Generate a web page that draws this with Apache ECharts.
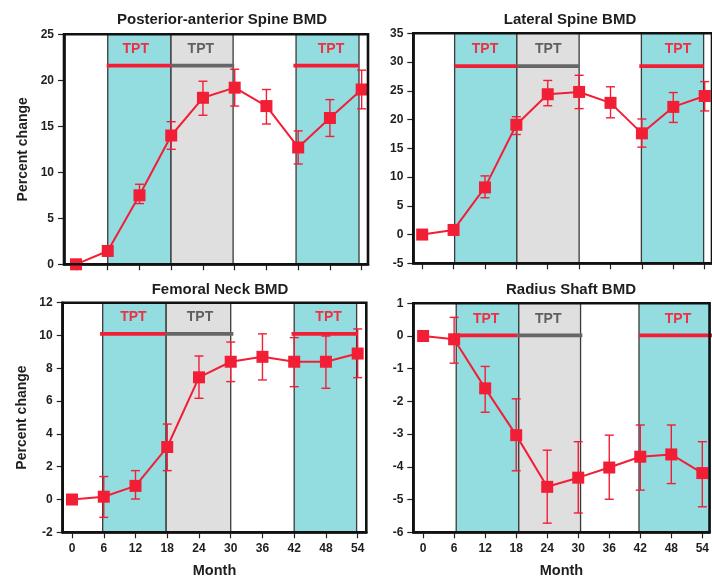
<!DOCTYPE html>
<html>
<head>
<meta charset="utf-8">
<script src="https://cdn.jsdelivr.net/npm/echarts@6/dist/echarts.min.js"></script>
<style>
html, body { margin: 0; padding: 0; background: #fff; }
#chart { width: 712px; height: 581px; }
</style>
</head>
<body>
<div id="chart"></div>
<script>
// Study visits (months) and tick marks on every x axis
const months = [0, 6, 12, 18, 24, 30, 36, 42, 48, 54];
const monthTicks = [0, 6, 12, 18, 24, 30, 36, 42, 48, 54];

const panelTitles = ['Posterior-anterior Spine BMD', 'Lateral Spine BMD', 'Femoral Neck BMD', 'Radius Shaft BMD'];

// Mean percent change with upper / lower error limits (null = no bar)
const paSpineMean  = [0, 1.45, 7.5, 14.0, 18.1, 19.2, 17.2, 12.7, 15.9, 19.0];
const paSpineUpper = [null, null, 8.7, 15.5, 19.9, 21.2, 19.0, 14.5, 17.9, 21.1];
const paSpineLower = [null, null, 6.6, 12.5, 16.2, 17.2, 15.25, 10.9, 13.9, 16.9];

const latSpineMean  = [0, 0.8, 8.2, 19.1, 24.4, 24.8, 22.9, 17.6, 22.2, 24.1];
const latSpineUpper = [null, null, 10.2, 20.5, 26.8, 27.7, 25.7, 20.1, 24.7, 26.6];
const latSpineLower = [null, null, 6.4, 17.4, 22.4, 21.9, 20.3, 15.2, 19.5, 21.5];

const femNeckMean  = [0, 0.17, 0.83, 3.2, 7.45, 8.4, 8.7, 8.4, 8.4, 8.9];
const femNeckUpper = [null, 1.4, 1.76, 4.6, 8.75, 9.6, 10.1, 9.87, 9.97, 10.4];
const femNeckLower = [null, -1.09, 0.03, 1.76, 6.17, 7.19, 7.29, 6.88, 6.78, 7.43];

const radShaftMean  = [0, -0.1, -1.6, -3.03, -4.61, -4.33, -4.02, -3.69, -3.62, -4.19];
const radShaftUpper = [null, 0.57, -0.93, -1.92, -3.49, -3.23, -3.03, -2.72, -2.72, -3.23];
const radShaftLower = [null, -0.83, -2.33, -4.12, -5.72, -5.41, -4.99, -4.71, -4.51, -5.22];

// Treatment windows: [start month, end month, 'on' = TPT given, 'off' = TPT paused]
const paSpineWindows  = [[6, 17.96, 'on'], [17.96, 29.7, 'off'], [41.6, 53.5, 'on']];
const latSpineWindows = [[6.2, 18.1, 'on'], [18.1, 30.0, 'off'], [41.9, 53.8, 'on']];
const femNeckWindows  = [[5.8, 17.8, 'on'], [17.8, 30.0, 'off'], [42.0, 53.8, 'on']];
const radShaftWindows = [[6.4, 18.5, 'on'], [18.5, 30.45, 'off'], [41.75, 56, 'on']];

// Horizontal TPT bars: [start month, end month, kind] and their level
const paSpineBars  = [[5.8, 17.96, 'on'], [17.96, 29.9, 'off'], [41.1, 53.5, 'on']];
const latSpineBars = [[6.2, 18.1, 'on'], [18.1, 30.0, 'off'], [41.5, 53.8, 'on']];
const femNeckBars  = [[5.3, 17.7, 'on'], [17.7, 30.5, 'off'], [41.5, 54.0, 'on']];
const radShaftBars = [[6.0, 18.2, 'on'], [18.2, 30.8, 'off'], [41.75, 56, 'on']];
const barLevels = [21.6, 29.3, 10.1, 0.02];

// "TPT" captions: [month, kind] and their level
const paSpineLabels  = [[11.3, 'on'], [23.6, 'off'], [48.2, 'on']];
const latSpineLabels = [[12.0, 'on'], [24.1, 'off'], [48.9, 'on']];
const femNeckLabels  = [[11.6, 'on'], [24.2, 'off'], [48.5, 'on']];
const radShaftLabels = [[12.2, 'on'], [24.2, 'off'], [49.3, 'on']];
const labelLevels = [23.4, 32.2, 11.1, 0.51];

// y-axis ranges [min, max, interval]
const yRanges = [[0, 25, 5], [-5, 35, 5], [-2, 12, 2], [-6, 1, 1]];

const RED = '#F21E36';
const CYAN = '#93DDE0';
const GREY_FILL = '#DFDFDF';
const GREY_BAR = '#666666';
const TEXT = '#1e1e1e';
const FONT = "'Liberation Sans', Arial, Helvetica, sans-serif";

const panels = [
  { mean: paSpineMean, upper: paSpineUpper, lower: paSpineLower, windows: paSpineWindows, bars: paSpineBars, labels: paSpineLabels,
    grid: { left: 64, top: 34.3, width: 304, height: 230 }, xMin: -2.27, xMax: 55.2, yName: 'Percent change', showX: false, titleX: 217, titleY: 7 },
  { mean: latSpineMean, upper: latSpineUpper, lower: latSpineLower, windows: latSpineWindows, bars: latSpineBars, labels: latSpineLabels,
    grid: { left: 413.3, top: 33.3, width: 302.4, height: 230 }, xMin: -1.7, xMax: 55.4, yName: '', showX: false, titleX: 565, titleY: 7 },
  { mean: femNeckMean, upper: femNeckUpper, lower: femNeckLower, windows: femNeckWindows, bars: femNeckBars, labels: femNeckLabels,
    grid: { left: 62.7, top: 302.7, width: 303.6, height: 229.6 }, xMin: -1.76, xMax: 55.63, yName: 'Percent change', showX: true, titleX: 215, titleY: 277 },
  { mean: radShaftMean, upper: radShaftUpper, lower: radShaftLower, windows: radShaftWindows, bars: radShaftBars, labels: radShaftLabels,
    grid: { left: 413.3, top: 303.3, width: 304.3, height: 229 }, xMin: -1.9, xMax: 55.4, yName: '', showX: true, titleX: 566, titleY: 277 }
];

const chart = echarts.init(document.getElementById('chart'), null, { renderer: 'canvas' });

const grids = [], xAxes = [], yAxes = [], series = [], titles = [];

function errorBarItem(params, api) {
  const x = api.value(0);
  const top = api.coord([x, api.value(1)]);
  const bot = api.coord([x, api.value(2)]);
  const cap = 4.5;
  const style = { stroke: RED, lineWidth: 1.4 };
  return {
    type: 'group',
    children: [
      { type: 'line', shape: { x1: top[0], y1: top[1], x2: bot[0], y2: bot[1] }, style },
      { type: 'line', shape: { x1: top[0] - cap, y1: top[1], x2: top[0] + cap, y2: top[1] }, style },
      { type: 'line', shape: { x1: bot[0] - cap, y1: bot[1], x2: bot[0] + cap, y2: bot[1] }, style }
    ]
  };
}

function phaseBarItem(params, api) {
  const a = api.coord([api.value(0), api.value(2)]);
  const b = api.coord([api.value(1), api.value(2)]);
  const on = api.value(3) === 1;
  return {
    type: 'line',
    shape: { x1: a[0], y1: a[1], x2: b[0], y2: b[1] },
    style: { stroke: on ? RED : GREY_BAR, lineWidth: 3.6 }
  };
}

function phaseLabelItem(params, api) {
  const p = api.coord([api.value(0), api.value(1)]);
  const on = api.value(2) === 1;
  return {
    type: 'text',
    x: p[0], y: p[1],
    style: {
      text: 'TPT',
      fill: on ? '#EE2F44' : '#5f5f5f',
      font: 'bold 14px ' + FONT,
      align: 'center',
      verticalAlign: 'middle'
    }
  };
}

panels.forEach((p, i) => {
  grids.push(Object.assign({ show: true, z: 10, borderColor: '#111', borderWidth: 2.6, backgroundColor: 'transparent' }, p.grid));
  titles.push({
    text: panelTitles[i], left: p.titleX, top: p.titleY, textAlign: 'center',
    textStyle: { fontFamily: FONT, fontWeight: 'bold', fontSize: 15, color: TEXT }
  });
  xAxes.push({
    type: 'value', gridIndex: i, min: p.xMin, max: p.xMax,
    splitLine: { show: false },
    axisLine: { show: true, onZero: false, lineStyle: { color: '#111', width: 2.6 } },
    axisTick: { show: true, customValues: monthTicks, length: 6, lineStyle: { color: '#222', width: 1.2 } },
    axisLabel: { show: p.showX, customValues: monthTicks, margin: 10, fontFamily: FONT, fontWeight: 'bold', fontSize: 12, color: TEXT },
    name: p.showX ? 'Month' : '', nameLocation: 'middle', nameGap: 31,
    nameTextStyle: { fontFamily: FONT, fontWeight: 'bold', fontSize: 14.5, color: TEXT }
  });
  const yr = yRanges[i];
  yAxes.push({
    type: 'value', gridIndex: i, min: yr[0], max: yr[1], interval: yr[2],
    splitLine: { show: false },
    axisLine: { show: true, onZero: false, lineStyle: { color: '#111', width: 2.6 } },
    axisTick: { show: true, length: 6, lineStyle: { color: '#222', width: 1.2 } },
    axisLabel: { margin: 10, fontFamily: FONT, fontWeight: 'bold', fontSize: 12, color: TEXT },
    name: p.yName, nameLocation: 'middle', nameGap: 34,
    nameTextStyle: { fontFamily: FONT, fontWeight: 'bold', fontSize: 14, color: TEXT }
  });

  // shaded treatment windows
  series.push({
    type: 'line', xAxisIndex: i, yAxisIndex: i, z: 1, silent: true,
    data: months.map((m, k) => [m, p.mean[k]]),
    symbol: 'none', lineStyle: { opacity: 0 },
    markArea: {
      silent: true,
      data: p.windows.map(w => [
        { xAxis: w[0], yAxis: yr[0], itemStyle: { color: w[2] === 'on' ? CYAN : GREY_FILL, borderColor: '#3a3a3a', borderWidth: 1.3 } },
        { xAxis: w[1], yAxis: yr[1] }
      ])
    }
  });

  // TPT bars
  series.push({
    type: 'custom', xAxisIndex: i, yAxisIndex: i, z: 3, silent: true,
    renderItem: phaseBarItem,
    encode: { x: [0, 1], y: 2 },
    data: p.bars.map(b => [b[0], b[1], barLevels[i], b[2] === 'on' ? 1 : 0])
  });

  // TPT captions
  series.push({
    type: 'custom', xAxisIndex: i, yAxisIndex: i, z: 3, silent: true,
    renderItem: phaseLabelItem,
    encode: { x: 0, y: 1 },
    data: p.labels.map(l => [l[0], labelLevels[i], l[1] === 'on' ? 1 : 0])
  });

  // error bars
  series.push({
    type: 'custom', xAxisIndex: i, yAxisIndex: i, z: 4, silent: true,
    renderItem: errorBarItem,
    encode: { x: 0, y: [1, 2] },
    data: months.map((m, k) => [m, p.upper[k], p.lower[k]]).filter(d => d[1] !== null)
  });

  // mean percent change
  series.push({
    type: 'line', xAxisIndex: i, yAxisIndex: i, z: 5,
    data: months.map((m, k) => [m, p.mean[k]]),
    symbol: 'rect', symbolSize: 12,
    lineStyle: { color: RED, width: 2 },
    itemStyle: { color: RED },
    animation: false
  });
});

chart.setOption({
  animation: false,
  backgroundColor: '#fff',
  title: titles,
  grid: grids,
  xAxis: xAxes,
  yAxis: yAxes,
  series: series
});
</script>
</body>
</html>
